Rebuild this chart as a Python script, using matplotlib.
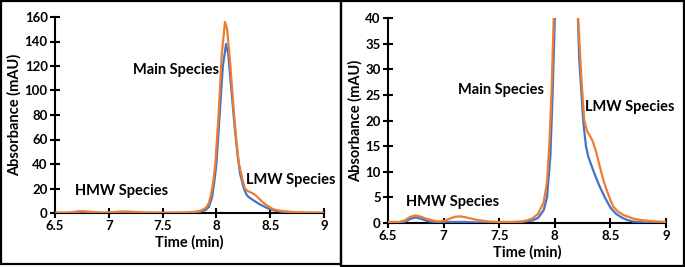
import matplotlib
matplotlib.use("Agg")
import matplotlib.pyplot as plt
from matplotlib.patches import Rectangle

plt.rcParams['font.family'] = ['Lato', 'DejaVu Sans']
plt.rcParams['font.weight'] = 'bold'

# Chromatogram data (time in min, absorbance in mAU)
time_blue = [6.5, 6.6, 6.65, 6.7, 6.75, 6.8, 6.85, 6.9, 6.95, 7.0, 7.1, 7.15, 7.2, 7.3, 7.5,
             7.7, 7.8, 7.85, 7.9, 7.93, 7.96, 7.98, 8.0, 8.03, 8.06, 8.09, 8.11, 8.14, 8.17,
             8.2, 8.22, 8.255, 8.28, 8.3, 8.35, 8.4, 8.45, 8.5, 8.55, 8.6, 8.65, 8.7, 8.8, 9.0]
abs_blue = [0.1, 0.1, 0.2, 0.8, 1.1, 0.8, 0.4, 0.2, 0.1, 0.2, 0.2, 0.2, 0.2, 0.1, 0.1,
            0.2, 0.5, 1.0, 2.5, 5, 13, 25, 40, 80, 120, 138, 130, 100, 70,
            45, 32, 20, 15, 13, 10, 7.3, 5, 3, 1.8, 1.1, 0.6, 0.3, 0.1, 0.0]

time_orange = [6.5, 6.6, 6.65, 6.7, 6.75, 6.8, 6.85, 6.9, 6.95, 7.0, 7.05, 7.1, 7.15, 7.2,
               7.3, 7.4, 7.5, 7.6, 7.7, 7.75, 7.8, 7.85, 7.9, 7.93, 7.95, 7.97, 7.99, 8.02,
               8.05, 8.08, 8.1, 8.13, 8.16, 8.19, 8.21, 8.24, 8.265, 8.29, 8.34, 8.37, 8.405,
               8.435, 8.465, 8.5, 8.525, 8.57, 8.615, 8.7, 8.765, 8.85, 8.915, 9.0]
abs_orange = [0.2, 0.2, 0.5, 1.2, 1.5, 1.2, 0.8, 0.5, 0.3, 0.4, 0.8, 1.2, 1.3, 1.1,
              0.6, 0.3, 0.2, 0.2, 0.3, 0.5, 0.9, 1.8, 4, 8, 15, 25, 40, 80,
              130, 156, 150, 120, 85, 55, 40, 28, 20, 18, 16, 14, 11,
              8.5, 6.5, 4.5, 3.2, 2.2, 1.6, 0.9, 0.6, 0.4, 0.3, 0.2]

x_ticks = [6.5, 7, 7.5, 8, 8.5, 9]
x_ticklabels = ['6.5', '7', '7.5', '8', '8.5', '9']
y_ticks_left = [0, 20, 40, 60, 80, 100, 120, 140, 160]
y_ticks_right = [0, 5, 10, 15, 20, 25, 30, 35, 40]

BLUE = '#4472C4'
ORANGE = '#ED7D31'

W, H = 685, 267
fig = plt.figure(figsize=(W / 100, H / 100), dpi=100)

def px_axes(l, r, t, b):
    return fig.add_axes([l / W, 1 - b / H, (r - l) / W, (b - t) / H])

ax1 = px_axes(55, 324, 17, 213)
ax2 = px_axes(388, 666, 18, 223)

def style(ax, yticks, ylim):
    ax.plot(time_blue, abs_blue, color=BLUE, lw=1.6, clip_on=True)
    ax.plot(time_orange, abs_orange, color=ORANGE, lw=1.6, clip_on=True)
    ax.set_xlim(6.5, 9)
    ax.set_ylim(*ylim)
    ax.set_xticks(x_ticks)
    ax.set_xticklabels(x_ticklabels)
    ax.set_yticks(yticks)
    for s in ['top', 'right']:
        ax.spines[s].set_visible(False)
    for s in ['left', 'bottom']:
        ax.spines[s].set_linewidth(1.5)
        ax.spines[s].set_zorder(1)
    ax.tick_params(direction='inout', length=6.5, width=1.5, labelsize=9.5, pad=2)
    for lab in ax.get_xticklabels() + ax.get_yticklabels():
        lab.set_fontweight('bold')
    ax.set_xlabel('Time (min)', fontsize=10.5, fontweight='bold', labelpad=2)
    ax.set_ylabel('Absorbance (mAU)', fontsize=10.5, fontweight='bold', labelpad=2)
    ax.patch.set_alpha(0)

style(ax1, y_ticks_left, (0, 160))
style(ax2, y_ticks_right, (0, 40))

ax1.text(7.62, 116.7, 'Main Species', fontsize=10.5, fontweight='bold', ha='center', va='center')
ax1.text(8.69, 26.9, 'LMW Species', fontsize=10.5, fontweight='bold', ha='center', va='center')
ax1.text(7.12, 18.2, 'HMW Species', fontsize=10.5, fontweight='bold', ha='center', va='center')

ax2.text(7.52, 25.95, 'Main Species', fontsize=10.5, fontweight='bold', ha='center', va='center')
ax2.text(8.676, 22.7, 'LMW Species', fontsize=10.5, fontweight='bold', ha='center', va='center')
ax2.text(7.08, 4.16, 'HMW Species', fontsize=10.5, fontweight='bold', ha='center', va='center')

# panel frames
def frame(l, t, r, b):
    fig.patches.append(Rectangle((l / W, 1 - b / H), (r - l) / W, (b - t) / H,
                                 transform=fig.transFigure, fill=False,
                                 edgecolor='black', lw=1.6))

frame(1, 1, 341, 264)
frame(341, 1, 684, 266)

fig.savefig('out.png', dpi=100)
